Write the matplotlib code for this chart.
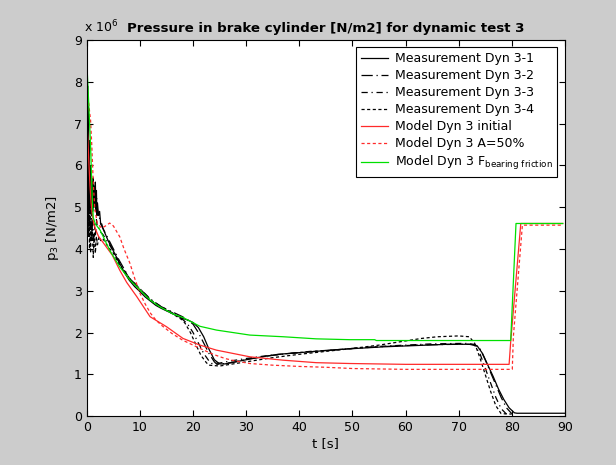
import matplotlib
matplotlib.use('Agg')
import matplotlib.pyplot as plt

# values in units of 1e6 N/m2
# measurement 3-1 (solid)
t_m1 = [0, 0.03, 0.06, 0.1, 0.14, 0.18, 0.22, 0.26, 0.3, 0.34, 0.38, 0.42, 0.46, 0.5,
        0.6, 0.7, 0.8, 0.9, 1.0, 1.1, 1.2, 1.3, 1.4, 1.5, 1.6, 1.7, 1.8, 1.9, 2.0, 2.2,
        2.4, 2.6, 2.8, 3.0, 3.5, 4, 5, 6, 7, 8, 9, 10, 11, 12, 13, 14, 15, 16, 17, 18,
        19, 20, 21, 22, 23, 24, 25, 26, 28, 30, 33, 36, 40, 44, 48, 52, 56, 60, 64, 68,
        72, 73.5, 74.5, 75.5, 76.5, 77.5, 78.5, 79.5, 80.5, 81, 90]
p_m1 = [8.8, 5.3, 8.4, 5.2, 7.9, 5.4, 7.4, 5.1, 7.0, 5.3, 6.6, 5.0, 6.3, 5.2, 6.0, 5.0,
        5.7, 5.2, 5.6, 4.9, 5.7, 5.0, 5.5, 5.1, 5.6, 4.9, 5.4, 4.8, 5.1, 4.8, 4.9, 4.6,
        4.6, 4.5, 4.35, 4.2, 3.95, 3.7, 3.45, 3.25, 3.1, 2.98, 2.85, 2.75, 2.65, 2.58,
        2.52, 2.46, 2.4, 2.34, 2.3, 2.24, 2.12, 1.9, 1.6, 1.35, 1.25, 1.25, 1.3, 1.35,
        1.42, 1.48, 1.52, 1.56, 1.6, 1.63, 1.66, 1.68, 1.7, 1.72, 1.72, 1.68, 1.5, 1.22,
        0.95, 0.65, 0.4, 0.2, 0.08, 0.07, 0.07]

# measurement 3-2 (dash dot)
t_m2 = [0, 0.05, 0.1, 0.15, 0.2, 0.3, 0.4, 0.5, 0.6, 0.7, 0.8, 0.9, 1.0, 1.2, 1.4, 1.6,
        1.8, 2.0, 2.3, 2.6, 3.0, 4, 5, 6, 8, 10, 12, 14, 16, 18, 19, 20, 21, 22, 23, 24,
        24.5, 26, 28, 30, 34, 38, 42, 46, 50, 55, 60, 65, 70, 73, 74, 75, 76, 77, 78,
        79, 80]
p_m2 = [8.2, 5.4, 7.6, 5.2, 6.8, 5.5, 6.2, 4.9, 5.6, 5.1, 5.5, 4.8, 5.6, 5.0, 5.5, 4.9,
        5.3, 4.9, 4.8, 4.6, 4.5, 4.25, 4.0, 3.75, 3.3, 3.05, 2.78, 2.62, 2.5, 2.38, 2.3,
        2.2, 2.0, 1.75, 1.5, 1.3, 1.24, 1.26, 1.3, 1.36, 1.44, 1.5, 1.54, 1.58, 1.62,
        1.66, 1.69, 1.71, 1.72, 1.72, 1.62, 1.35, 1.05, 0.75, 0.45, 0.2, 0.06]

# measurement 3-3 (dash dot, shorter)
t_m3 = [0, 0.1, 0.2, 0.3, 0.4, 0.5, 0.6, 0.7, 0.8, 0.9, 1.0, 1.2, 1.4, 1.6, 1.8, 2.0,
        2.3, 2.6, 3.0, 4, 5, 6, 8, 10, 12, 14, 16, 18, 19, 20, 21, 22, 23, 23.5, 25, 27,
        30, 34, 38, 42, 46, 50, 55, 60, 65, 70, 72, 73, 74, 75, 76, 77, 78, 79]
p_m3 = [6.2, 5.0, 5.6, 4.6, 5.4, 4.5, 5.2, 4.2, 4.9, 4.4, 4.8, 4.1, 4.6, 4.3, 4.7, 4.5,
        4.5, 4.4, 4.35, 4.15, 3.95, 3.7, 3.3, 3.05, 2.8, 2.62, 2.48, 2.32, 2.2, 2.0, 1.75,
        1.5, 1.32, 1.26, 1.27, 1.32, 1.38, 1.45, 1.5, 1.55, 1.58, 1.62, 1.67, 1.7, 1.73,
        1.74, 1.74, 1.7, 1.5, 1.15, 0.8, 0.45, 0.18, 0.05]

# measurement 3-4 (dashed)
t_m4 = [0, 0.1, 0.2, 0.3, 0.4, 0.5, 0.6, 0.7, 0.8, 0.9, 1.0, 1.2, 1.4, 1.6, 1.8, 2.0,
        2.3, 2.6, 3.0, 4, 5, 6, 8, 10, 12, 14, 16, 18, 18.5, 19.5, 20.5, 21.5, 22.5, 23,
        25, 27, 30, 35, 40, 45, 50, 55, 60, 63, 66, 70, 72, 73, 74, 75, 76, 77, 78, 80]
p_m4 = [5.8, 4.6, 5.2, 4.3, 5.0, 4.0, 4.7, 3.9, 4.5, 4.2, 4.6, 3.8, 4.4, 3.9, 4.3, 4.1,
        4.3, 4.2, 4.25, 4.05, 3.9, 3.65, 3.28, 3.02, 2.78, 2.6, 2.46, 2.3, 2.22, 2.0, 1.72,
        1.45, 1.28, 1.22, 1.2, 1.24, 1.3, 1.4, 1.48, 1.55, 1.62, 1.7, 1.8, 1.86, 1.9,
        1.92, 1.9, 1.75, 1.4, 1.0, 0.6, 0.25, 0.06, 0.05]

# model initial (red solid)
t_init = [0, 0.2, 0.4, 0.6, 0.8, 1.0, 1.3, 1.7, 2.2, 3.2, 4.8, 6.2, 7.5, 9.4, 11.9, 15,
          18.1, 21.3, 24.4, 30.7, 36.9, 43.2, 49.5, 60, 79.5, 79.8, 81.7, 89.6]
p_init = [7.1, 6.6, 6.0, 5.5, 5.1, 4.85, 4.6, 4.45, 4.3, 4.13, 3.85, 3.49, 3.2, 2.86,
          2.38, 2.14, 1.86, 1.7, 1.58, 1.42, 1.34, 1.28, 1.26, 1.24, 1.24, 1.78, 4.61, 4.61]

# model A=50% (red dashed)
t_a50 = [0, 0.25, 0.5, 0.7, 0.94, 1.2, 1.5, 2.0, 2.8, 3.5, 4.3, 5.0, 6.2, 7, 8.1, 9, 10,
         11, 12, 13, 14, 15, 16, 18, 20, 22, 24, 26, 28, 30.7, 35, 40, 45, 50, 55, 60,
         80.1, 80.3, 82.0, 89.6]
p_a50 = [7.9, 7.6, 7.3, 7.08, 6.45, 5.6, 4.95, 4.6, 4.5, 4.55, 4.62, 4.55, 4.29, 4.0,
         3.66, 3.3, 2.94, 2.68, 2.46, 2.3, 2.18, 2.08, 1.98, 1.82, 1.7, 1.58, 1.47, 1.38,
         1.32, 1.26, 1.22, 1.19, 1.17, 1.14, 1.13, 1.12, 1.12, 1.9, 4.57, 4.57]

# model bearing friction (green)
t_fr = [0, 0.4, 0.7, 1.0, 1.2, 1.6, 2.5, 4.3, 6.2, 8.1, 10, 11.9, 13.7, 16.3, 18.1,
        21.3, 24.4, 30.7, 37, 43.2, 49.5, 54.2, 54.5, 79.8, 80.8, 89.6]
p_fr = [8.46, 7.35, 6.46, 5.27, 4.75, 4.6, 4.45, 3.97, 3.57, 3.26, 3.02, 2.78, 2.62, 2.44,
        2.36, 2.15, 2.06, 1.94, 1.9, 1.85, 1.83, 1.83, 1.81, 1.81, 4.61, 4.61]

labels = ['Measurement Dyn 3-1', 'Measurement Dyn 3-2', 'Measurement Dyn 3-3',
          'Measurement Dyn 3-4', 'Model Dyn 3 initial', 'Model Dyn 3 A=50%',
          'Model Dyn 3 F$_{\\mathregular{bearing\\ friction}}$']

plt.rcParams['font.family'] = 'DejaVu Sans'
fig = plt.figure(figsize=(6.16, 4.65), dpi=100, facecolor='#cccccc')
ax = fig.add_axes([0.141, 0.105, 0.776, 0.809])

lw = 0.9
ax.plot(t_m1, p_m1, color='black', lw=lw, ls='-', label=labels[0])
ax.plot(t_m2, p_m2, color='black', lw=lw, ls=(0, (9, 3, 1, 3)), label=labels[1])
ax.plot(t_m3, p_m3, color='black', lw=lw, ls=(0, (5, 3, 1, 3)), label=labels[2])
ax.plot(t_m4, p_m4, color='black', lw=lw, ls=(0, (2.5, 2)), label=labels[3])
ax.plot(t_init, p_init, color='#ff2a2a', lw=lw, ls='-', label=labels[4])
ax.plot(t_a50, p_a50, color='#ff2a2a', lw=lw, ls=(0, (2.5, 2)), label=labels[5])
ax.plot(t_fr, p_fr, color='#00e000', lw=lw, ls='-', label=labels[6])

ax.set_xlim(0, 90)
ax.set_ylim(0, 9)
ax.set_xticks(range(0, 91, 10))
ax.set_yticks(range(0, 10))
ax.tick_params(direction='in', top=True, right=True, labelsize=9, length=4, width=0.8)
for s in ax.spines.values():
    s.set_linewidth(0.8)

ax.set_xlabel('t [s]', fontsize=9.5, labelpad=2)
ax.set_ylabel('p$_3$ [N/m2]', fontsize=9.5, labelpad=9)
ax.set_title('Pressure in brake cylinder [N/m2] for dynamic test 3', fontsize=9.6,
             fontweight='bold', pad=6)
ax.text(-0.005, 1.012, 'x 10$^6$', transform=ax.transAxes, fontsize=9, ha='left', va='bottom')

leg = ax.legend(loc='upper right', fontsize=9, handlelength=2.2, handletextpad=0.5,
                borderpad=0.4, labelspacing=0.32, fancybox=False, framealpha=1,
                edgecolor='black', borderaxespad=0.6)
leg.get_frame().set_linewidth(0.8)

fig.savefig('out.png', dpi=100, facecolor=fig.get_facecolor())
